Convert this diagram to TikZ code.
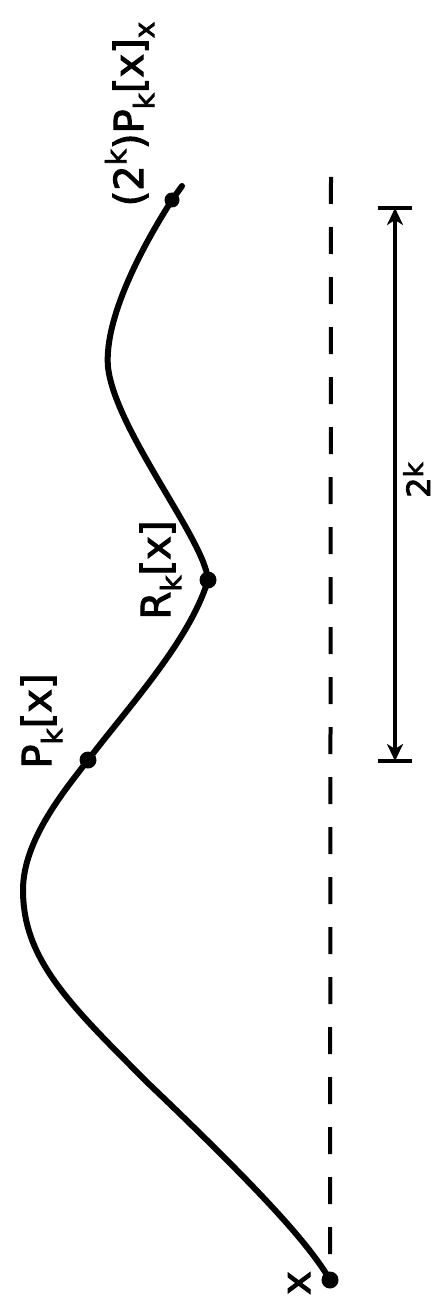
\documentclass[tikz,border=0pt]{standalone}
\usepackage{fontspec}
\usetikzlibrary{arrows.meta}
\newfontfamily\lblfont{DejaVu Sans}[FakeBold=2.5]
\newcommand\lsub[1]{\raisebox{-0.28em}{\fontsize{28}{30}\selectfont #1}}
\newcommand\lsup[1]{\raisebox{0.42em}{\fontsize{28}{30}\selectfont #1}}
\newcommand\lsupb[1]{\raisebox{0.22em}{\fontsize{26}{28}\selectfont #1}}
\begin{document}
\begin{tikzpicture}[x=1pt,y=-1pt,
  lbl/.style={rotate=90,anchor=base,inner sep=0pt,font=\lblfont\fontsize{40}{44}\selectfont},
  curveline/.style={line width=6pt,line cap=round,line join=round},
  dot/.style={circle,fill=black,inner sep=0pt,minimum size=17pt},
  baseline/.style={line width=4pt,dash pattern=on 27pt off 23pt},
  dimline/.style={line width=3.5pt,{Stealth[length=17pt,width=16pt,inset=5pt]}-{Stealth[length=17pt,width=16pt,inset=5pt]}},
  bar/.style={line width=4.5pt}]
\useasboundingbox (0,0) rectangle (447,1297);
\fill[white] (0,0) rectangle (447,1297);
% key points
\coordinate (S) at (330,1280);
\coordinate (M1) at (150,1085);
\coordinate (L1) at (23,890);
\coordinate (P) at (88,760);
\coordinate (R) at (208,580);
\coordinate (L2) at (108,367);
\coordinate (E) at (172,200);
\coordinate (T) at (182,186);
\coordinate (D) at (331,177);
\coordinate (A) at (395,208);
\coordinate (B) at (395,761);
% dashed reference line
\draw[baseline] (D) -- (S);
% curve
\draw[curveline] (S) .. controls (310,1245) and (260,1190) .. (M1)
  .. controls (70,1005) and (23,960) .. (L1)
  .. controls (23,840) and (65,790) .. (P)
  .. controls (130,705) and (190,640) .. (R)
  .. controls (205,540) and (115,430) .. (L2)
  .. controls (104,320) and (140,250) .. (E) -- (T);
% dots
\node[dot] (dS) at (S) {};
\node[dot] (dP) at (P) {};
\node[dot] (dR) at (R) {};
\node[dot,minimum size=15pt] (dE) at (E) {};
% dimension
\draw[dimline] (A) -- (B);
\draw[bar] ([xshift=-17pt]A) -- ([xshift=17pt]A);
\draw[bar] ([xshift=-17pt]B) -- ([xshift=17pt]B);
% labels
\node[lbl] (Lab1) at (143,114) {(2\lsup{k})P\lsub{k}[x]\lsub{x}};
\node[lbl] (Lab2) at (51,721) {P\lsub{k}[x]};
\node[lbl] (Lab3) at (170,570) {R\lsub{k}[x]};
\node[lbl,font=\lblfont\fontsize{32}{36}\selectfont] (Lab4) at (430,480) {2\lsupb{k}};
\node[lbl] (Lab5) at (310,1283) {x};
\end{tikzpicture}
\end{document}
